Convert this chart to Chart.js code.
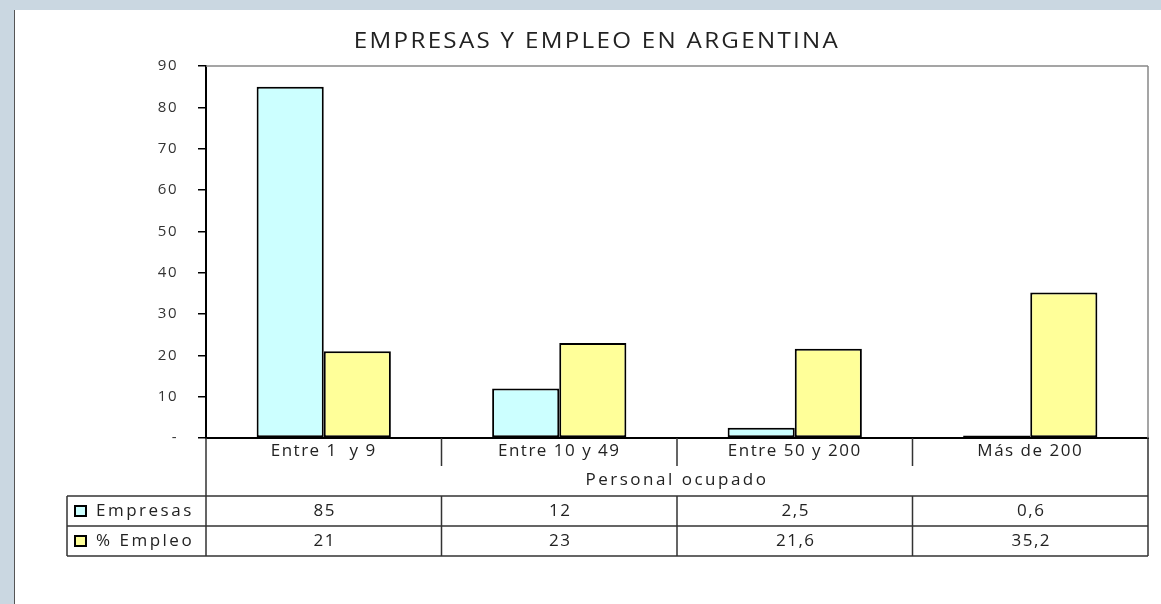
<!DOCTYPE html>
<html><head><meta charset="utf-8">
<script src="https://cdn.jsdelivr.net/npm/chart.js@4"></script>
<style>
html,body{margin:0;padding:0;width:1161px;height:604px;overflow:hidden;background:#cad7e1;}
#panel{position:absolute;left:14px;top:10px;width:1147px;height:594px;background:#fff;border-left:1px solid #555;}
#wrap{position:absolute;left:0;top:0;width:1161px;height:604px;}
</style></head><body>
<div id="panel"></div>
<div id="wrap"><canvas id="c" width="1161" height="604"></canvas></div>
<script>
const chartTitle = 'EMPRESAS Y EMPLEO EN ARGENTINA';
const categories = ['Entre 1  y 9', 'Entre 10 y 49', 'Entre 50 y 200', 'Más de 200'];
const axisTitle = 'Personal ocupado';
const seriesNames = ['Empresas', '% Empleo'];
const empresas = [85, 12, 2.5, 0.6];
const empleo = [21, 23, 21.6, 35.2];
const empresasLabels = ['85', '12', '2,5', '0,6'];
const empleoLabels = ['21', '23', '21,6', '35,2'];
const seriesColors = ['#ccffff', '#ffff99'];
const yMin = 0, yMax = 90, yStep = 10;

const FONT = '"Open Sans", "DejaVu Sans", sans-serif';

const spacingPlugin = {
  id: 'spacing',
  beforeDraw(chart) { chart.ctx.letterSpacing = '1.5px'; }
};

const tablePlugin = {
  id: 'dataTable',
  afterDraw(chart) {
    const { ctx, chartArea: a, scales: { x } } = chart;
    const n = categories.length;
    const step = x.getPixelForValue(1) - x.getPixelForValue(0);
    const edges = [];
    for (let i = 0; i <= n; i++) edges.push(x.getPixelForValue(i) - step / 2);
    const tableBottom = x.bottom;
    const rowH = 30;
    const tableTop = tableBottom - 2 * rowH;
    const legendLeft = 67;
    ctx.save();
    // title (slightly widened glyphs)
    ctx.fillStyle = '#222';
    ctx.letterSpacing = '2px';
    ctx.font = '21px ' + FONT;
    ctx.textAlign = 'center';
    ctx.textBaseline = 'middle';
    const hs = 1.15;
    ctx.save();
    ctx.translate(597, 42);
    ctx.scale(hs, 1);
    ctx.fillText(chartTitle, 0, 0);
    ctx.restore();
    // plot frame top/right
    ctx.strokeStyle = '#888';
    ctx.lineWidth = 1.5;
    ctx.beginPath();
    ctx.moveTo(a.left, a.top); ctx.lineTo(a.right, a.top);
    ctx.moveTo(a.right, a.top); ctx.lineTo(a.right, a.bottom);
    ctx.stroke();
    // table lines
    ctx.strokeStyle = '#333';
    ctx.lineWidth = 1.5;
    ctx.beginPath();
    ctx.moveTo(a.left, a.bottom); ctx.lineTo(a.left, tableBottom);
    ctx.moveTo(a.right, a.bottom); ctx.lineTo(a.right, tableBottom);
    for (let i = 1; i < n; i++) {
      ctx.moveTo(edges[i], a.bottom); ctx.lineTo(edges[i], a.bottom + 28);
      ctx.moveTo(edges[i], tableTop); ctx.lineTo(edges[i], tableBottom);
    }
    ctx.moveTo(legendLeft, tableTop); ctx.lineTo(legendLeft, tableBottom);
    for (let r = 0; r <= 2; r++) {
      ctx.moveTo(legendLeft, tableTop + r * rowH); ctx.lineTo(a.right, tableTop + r * rowH);
    }
    ctx.stroke();
    // texts
    ctx.fillStyle = '#222';
    ctx.font = '17px ' + FONT;
    ctx.letterSpacing = '2.5px';
    ctx.fillText(axisTitle, (a.left + a.right) / 2, a.bottom + 42);
    const rows = [empresasLabels, empleoLabels];
    rows.forEach((labels, r) => {
      const cy = tableTop + r * rowH + rowH / 2;
      ctx.letterSpacing = '1.5px';
      labels.forEach((t, i) => {
        ctx.fillText(t, x.getPixelForValue(i) + 1, cy);
      });
      // legend key
      ctx.fillStyle = seriesColors[r];
      ctx.fillRect(75, cy - 5, 11, 10);
      ctx.strokeStyle = '#000';
      ctx.lineWidth = 2;
      ctx.strokeRect(75, cy - 5, 11, 10);
      ctx.fillStyle = '#222';
      ctx.textAlign = 'left';
      ctx.letterSpacing = '2.5px';
      ctx.fillText(seriesNames[r], 96, cy);
      ctx.textAlign = 'center';
    });
    ctx.restore();
  }
};

new Chart(document.getElementById('c'), {
  type: 'bar',
  data: {
    labels: categories,
    datasets: [
      { label: seriesNames[0], data: empresas, backgroundColor: seriesColors[0], borderColor: '#000', borderWidth: 2, borderSkipped: false, categoryPercentage: 0.57, barPercentage: 1 },
      { label: seriesNames[1], data: empleo, backgroundColor: seriesColors[1], borderColor: '#000', borderWidth: 2, borderSkipped: false, categoryPercentage: 0.57, barPercentage: 1 }
    ]
  },
  options: {
    responsive: false,
    animation: false,
    devicePixelRatio: 1,
    layout: { padding: { left: 44, right: 13, top: 66, bottom: 48 } },
    plugins: {
      legend: { display: false },
      tooltip: { enabled: false },
      title: { display: false }
    },
    scales: {
      x: {
        grid: { display: false, drawTicks: false },
        border: { display: true, color: '#000', width: 2 },
        ticks: { color: '#222', font: { family: FONT, size: 17 }, padding: 3, maxRotation: 0 },
        afterFit(s) { s.height = 118; }
      },
      y: {
        min: yMin, max: yMax,
        grid: { drawOnChartArea: false, tickLength: 8, color: '#000', lineWidth: 1.5 },
        border: { color: '#000', width: 2 },
        ticks: { stepSize: yStep, color: '#333', padding: 20, font: { family: FONT, size: 15 }, callback: v => v === 0 ? '-' : String(v) },
        afterFit(s) { s.width = 162; }
      }
    }
  },
  plugins: [spacingPlugin, tablePlugin]
});
</script>
</body></html>
